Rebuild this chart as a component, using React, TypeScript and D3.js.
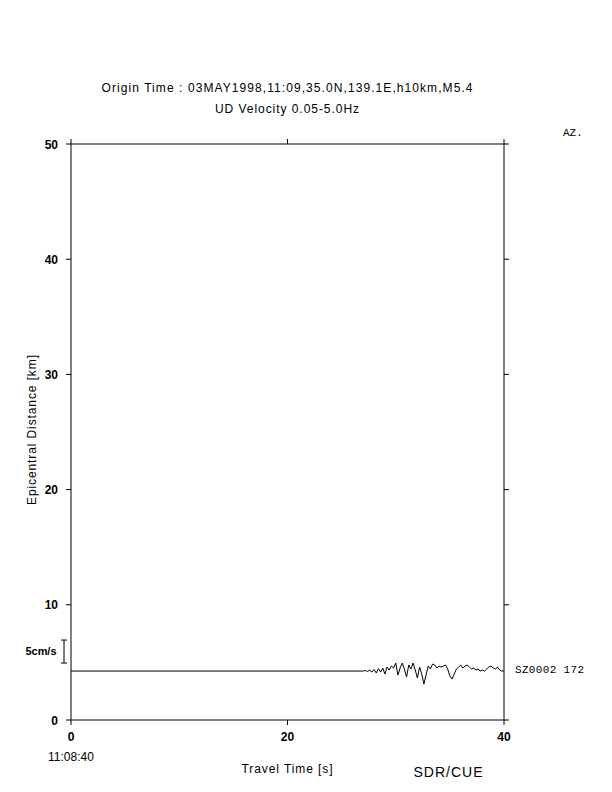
import React from "react";
import * as d3 from "d3";

const xTicks = [0, 20, 40];
const yTicks = [0, 10, 20, 30, 40, 50];
const titleLine1 = "Origin Time : 03MAY1998,11:09,35.0N,139.1E,h10km,M5.4";
const titleLine2 = "UD Velocity 0.05-5.0Hz";
const stationName = "SZ0002 172";
const stationDistance = 4.25; // km
const traceStartTime = 27.0; // s, before which trace is flat
const traceStep = 0.2; // s
// velocity (cm/s)
const traceValues = [
  0, 0.11, -0.11, 0.22, -0.22, 0.33, -0.43, 0.54, -0.22, 0.65,
  -0.65, 0.87, 0.22, 1.09, 0.65, 1.74, -0.87, 0.65, 1.74, 0.43,
  -1.3, 1.3, 0.43, 1.74, 0.22, -1.52, 0.87, -0.65, -2.83, -0.87,
  1.09, 0.43, 1.52, 1.3, 0.65, 1.09, 0.87, 1.09, 1.3, 0.43,
  -1.09, -1.74, -0.65, 0.43, 0.87, 1.3, 0.65, 1.09, 1.3, 0.87,
  0.43, 0.65, 0.22, 0.43, 0, 0.22, 0, 0.43, 0.87, 1.09,
  0.65, 0.43, 0.87, 0.22, 0, 0,
];
const scaleBarValue = 5; // cm/s

export default function App() {
  const W = 612, H = 792;
  const x = d3.scaleLinear().domain([0, 40]).range([71, 504]);
  const y = d3.scaleLinear().domain([0, 50]).range([720, 144]);
  const ampPxPerUnit = 4.6;
  const baseY = y(stationDistance);

  const pts: [number, number][] = [[0, 0]];
  traceValues.forEach((v, i) => pts.push([traceStartTime + i * traceStep, v]));
  const line = d3
    .line<[number, number]>()
    .x((d) => x(d[0]))
    .y((d) => baseY - d[1] * ampPxPerUnit);

  const sans = "'Liberation Sans', Arial, sans-serif";
  const mono = "'Liberation Mono', 'DejaVu Sans Mono', monospace";
  const tl = 5;
  const barTop = baseY - 8 - scaleBarValue * ampPxPerUnit;

  return (
    <svg width={W} height={H} style={{ position: "absolute", left: 0, top: 0, background: "#fff" }}>
      <rect x={0} y={0} width={W} height={H} fill="#fff" />
      <text x={287} y={92} textAnchor="middle" fontFamily={sans} fontSize={12} textLength={371} lengthAdjust="spacing">{titleLine1}</text>
      <text x={287} y={113} textAnchor="middle" fontFamily={sans} fontSize={12} textLength={144} lengthAdjust="spacing">{titleLine2}</text>
      <text x={563} y={136} fontFamily={mono} fontSize={11}>AZ.</text>

      <rect x={x(0)} y={y(50)} width={x(40) - x(0)} height={y(0) - y(50)} fill="none" stroke="#000" strokeWidth={1} />
      {yTicks.map((t) => (
        <g key={"y" + t}>
          <line x1={x(0) - tl} x2={x(0)} y1={y(t)} y2={y(t)} stroke="#000" />
          <line x1={x(40)} x2={x(40) + tl} y1={y(t)} y2={y(t)} stroke="#000" />
          <text x={58} y={y(t) + 4.5} textAnchor="end" fontFamily={sans} fontSize={12} fontWeight="bold">{t}</text>
        </g>
      ))}
      {xTicks.map((t) => (
        <g key={"x" + t}>
          <line x1={x(t)} x2={x(t)} y1={y(0)} y2={y(0) + tl} stroke="#000" />
          <line x1={x(t)} x2={x(t)} y1={y(50) - tl} y2={y(50)} stroke="#000" />
          <text x={x(t)} y={741} textAnchor="middle" fontFamily={sans} fontSize={12} fontWeight="bold">{t}</text>
        </g>
      ))}
      <text x={71} y={761} textAnchor="middle" fontFamily={sans} fontSize={12} textLength={46} lengthAdjust="spacing">11:08:40</text>
      <text x={287} y={773} textAnchor="middle" fontFamily={sans} fontSize={12} textLength={91} lengthAdjust="spacing">Travel Time [s]</text>
      <text x={448} y={777} textAnchor="middle" fontFamily={sans} fontSize={14} textLength={69} lengthAdjust="spacing">SDR/CUE</text>
      <text transform={`translate(36,430) rotate(-90)`} textAnchor="middle" fontFamily={sans} fontSize={12} textLength={150} lengthAdjust="spacing">Epicentral Distance [km]</text>

      <text x={41} y={655} textAnchor="middle" fontFamily={sans} fontSize={11} fontWeight="bold" textLength={31} lengthAdjust="spacing">{scaleBarValue}cm/s</text>
      <line x1={64} x2={64} y1={barTop} y2={barTop + scaleBarValue * ampPxPerUnit} stroke="#000" />
      <line x1={61} x2={67} y1={barTop} y2={barTop} stroke="#000" />
      <line x1={61} x2={67} y1={barTop + scaleBarValue * ampPxPerUnit} y2={barTop + scaleBarValue * ampPxPerUnit} stroke="#000" />

      <path d={line(pts) || ""} fill="none" stroke="#000" strokeWidth={1} />
      <text x={515} y={673} fontFamily={mono} fontSize={11} textLength={69} lengthAdjust="spacing">{stationName}</text>
    </svg>
  );
}
